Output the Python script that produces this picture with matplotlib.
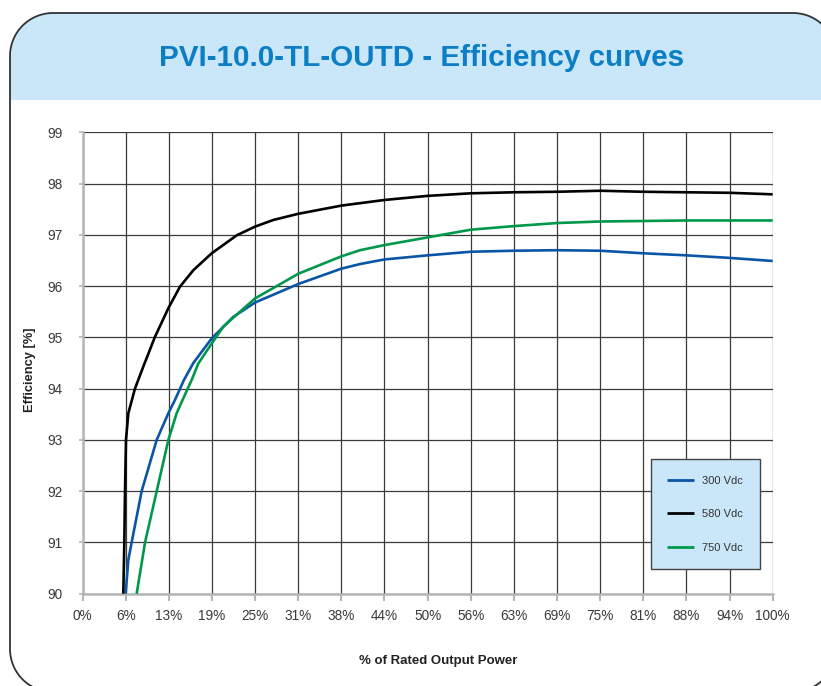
import matplotlib
matplotlib.use("Agg")
import numpy as np
import matplotlib.pyplot as plt
from matplotlib.patches import PathPatch, Rectangle
from matplotlib.path import Path

plt.rcParams['font.family'] = ['Liberation Sans', 'DejaVu Sans']

# ---------------- data ----------------
x_ticks = [0, 6.25, 12.5, 18.75, 25, 31.25, 37.5, 43.75, 50, 56.25, 62.5, 68.75, 75, 81.25, 87.5, 93.75, 100]
x_tick_labels = ['0%', '6%', '13%', '19%', '25%', '31%', '38%', '44%', '50%', '56%',
                 '63%', '69%', '75%', '81%', '88%', '94%', '100%']
y_ticks = [90, 91, 92, 93, 94, 95, 96, 97, 98, 99]

x_580 = [5.91, 6.06, 6.16, 6.3, 6.64, 7.36, 7.6, 8.81, 10.5, 12.44, 14.13, 16.06, 18.72, 22.34,
         25, 27.65, 31.25, 37.5, 43.75, 50, 56.25, 62.5, 68.75, 75, 81.25, 87.5, 93.75, 100]
y_580 = [90.0, 91.0, 92.0, 93.0, 93.52, 93.88, 94.0, 94.43, 95.01, 95.57, 95.99, 96.31, 96.64, 96.99,
         97.16, 97.29, 97.41, 97.57, 97.68, 97.76, 97.81, 97.83, 97.84, 97.86, 97.84, 97.83, 97.82, 97.79]

x_300 = [6.25, 6.64, 7.12, 8.57, 10.75, 12.44, 13.4, 14.7, 16.06, 18.72, 21.85, 25, 28.13, 31.25,
         37.5, 40.2, 43.75, 50, 56.25, 62.5, 68.75, 75, 81.25, 87.5, 93.75, 100]
y_300 = [90.0, 90.66, 91.0, 92.0, 93.0, 93.52, 93.78, 94.17, 94.5, 94.98, 95.40, 95.68, 95.86, 96.04,
         96.34, 96.43, 96.52, 96.60, 96.67, 96.69, 96.70, 96.69, 96.64, 96.60, 96.55, 96.49]

x_750 = [7.85, 9.06, 10.75, 12.44, 13.64, 14.5, 15.82, 16.78, 18.72, 20.4, 22.57, 25, 28.4, 31.25,
         37.5, 40.2, 43.75, 50, 56.25, 62.5, 68.75, 75, 81.25, 87.5, 93.75, 100]
y_750 = [90.0, 91.0, 92.0, 93.0, 93.52, 93.78, 94.17, 94.49, 94.88, 95.21, 95.47, 95.76, 96.02, 96.24,
         96.58, 96.70, 96.80, 96.95, 97.10, 97.17, 97.23, 97.26, 97.27, 97.28, 97.28, 97.28]

series = [
    ('300 Vdc', x_300, y_300, '#0a55a6'),
    ('580 Vdc', x_580, y_580, '#000000'),
    ('750 Vdc', x_750, y_750, '#00984a'),
]

title = 'PVI-10.0-TL-OUTD - Efficiency curves'
x_label = '% of Rated Output Power'
y_label = 'Efficiency [%]'

# ---------------- figure ----------------
W, H = 821, 686
fig = plt.figure(figsize=(W / 100, H / 100), dpi=100)

bg = fig.add_axes([0, 0, 1, 1], zorder=0)
bg.set_xlim(0, W)
bg.set_ylim(H, 0)
bg.axis('off')


def rounded_rect(x0, y0, x1, y1, r, n=24):
    pts = []
    corners = [(x1 - r, y0 + r, -90, 0), (x1 - r, y1 - r, 0, 90),
               (x0 + r, y1 - r, 90, 180), (x0 + r, y0 + r, 180, 270)]
    for cx, cy, a0, a1 in corners:
        for a in np.linspace(np.radians(a0), np.radians(a1), n):
            pts.append((cx + r * np.cos(a), cy + r * np.sin(a)))
    pts.append(pts[0])
    return Path(pts)


frame_path = rounded_rect(10, 13, 836, 692, 43)
frame = PathPatch(frame_path, facecolor='white', edgecolor='none', zorder=1)
bg.add_patch(frame)
header = Rectangle((0, 0), W, 100, facecolor='#cae7f9', edgecolor='none', zorder=2)
bg.add_patch(header)
header.set_clip_path(frame)
edge = PathPatch(frame_path, facecolor='none', edgecolor='#333333', linewidth=1.3, zorder=3)
bg.add_patch(edge)

bg.text(421.5, 57.5, title, ha='center', va='center', fontsize=21.3, fontweight='bold',
        color='#0b7ec6', zorder=4)
bg.text(438, 661, x_label, ha='center', va='center', fontsize=9.5, fontweight='bold',
        color='#222222', zorder=4)
bg.text(30, 370, y_label, ha='center', va='center', fontsize=9.3, fontweight='bold',
        color='#222222', rotation=90, zorder=4)

# main plot axes
left, right = 82.5, 772.7
top, bottom = 132.3, 593.7
ax = fig.add_axes([left / W, 1 - bottom / H, (right - left) / W, (bottom - top) / H], zorder=5)
ax.patch.set_alpha(0)

for name, xs, ys, col in series:
    ax.plot(xs, ys, color=col, linewidth=1.9, label=name, zorder=4,
            solid_joinstyle='round', solid_capstyle='butt')

ax.set_xlim(0, 100)
ax.set_ylim(90, 99)
ax.set_xticks(x_ticks)
ax.set_xticklabels(x_tick_labels)
ax.set_yticks(y_ticks)
ax.grid(True, color='#3a3a3a', linewidth=0.9, zorder=1)
ax.set_axisbelow(True)

for s in ['top', 'right']:
    ax.spines[s].set_visible(False)
for s in ['left', 'bottom']:
    ax.spines[s].set_color('#b5b5b5')
    ax.spines[s].set_linewidth(1.8)

ax.tick_params(axis='x', length=5, width=1.5, color='#b5b5b5', labelsize=9.8,
               labelcolor='#3a3a3a', pad=6)
ax.tick_params(axis='y', length=3.2, width=1.2, color='#b5b5b5', labelsize=9.8,
               labelcolor='#3a3a3a', pad=11)

# legend box (anchored at its top-left corner)
leg = ax.legend(loc='upper left', bbox_to_anchor=((650.7 - left) / (right - left),
                                                  (bottom - 459) / (bottom - top),
                                                  (760 - 650.7) / (right - left),
                                                  0),
                mode='expand', frameon=True, fancybox=False, fontsize=8,
                handlelength=2.4, handletextpad=0.7, labelspacing=2.12,
                borderpad=1.5, borderaxespad=0)
frame_l = leg.get_frame()
frame_l.set_facecolor('#cae7f9')
frame_l.set_edgecolor('#444444')
frame_l.set_linewidth(1.0)
frame_l.set_alpha(1)
for t in leg.get_texts():
    t.set_color('#333333')
for ln in leg.get_lines():
    ln.set_linewidth(2.0)
leg.set_zorder(10)

fig.savefig('out.png', dpi=100)
